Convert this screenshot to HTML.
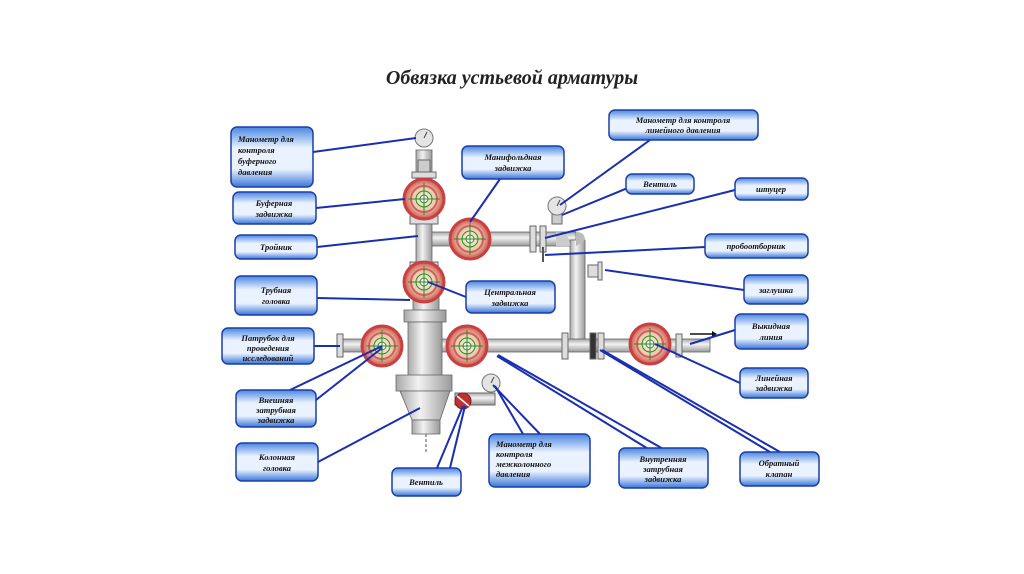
<!DOCTYPE html>
<html><head><meta charset="utf-8"><style>
html,body{margin:0;padding:0;background:#fff;}
svg{display:block}
.l{font-family:"Liberation Serif",serif;font-style:italic;font-weight:bold;font-size:8.5px;fill:#111;}
.ln{stroke:#1a2fb0;stroke-width:2;fill:none}
.p{fill:url(#pg);stroke:#666;stroke-width:0.8}
</style></head><body>
<svg width="1024" height="574" viewBox="0 0 1024 574" xmlns="http://www.w3.org/2000/svg">
<defs>
<linearGradient id="bg" x1="0" y1="0" x2="0" y2="1"><stop offset="0" stop-color="#4a86e0"/><stop offset="0.35" stop-color="#eaf2ff"/><stop offset="0.7" stop-color="#eaf2ff"/><stop offset="1" stop-color="#3a76d8"/></linearGradient>
<linearGradient id="pg" x1="0" y1="0" x2="1" y2="0"><stop offset="0" stop-color="#a8a8a8"/><stop offset="0.4" stop-color="#f2f2f2"/><stop offset="1" stop-color="#9a9a9a"/></linearGradient>
<linearGradient id="ph" x1="0" y1="0" x2="0" y2="1"><stop offset="0" stop-color="#a8a8a8"/><stop offset="0.4" stop-color="#f2f2f2"/><stop offset="1" stop-color="#9a9a9a"/></linearGradient>
<radialGradient id="vg"><stop offset="0" stop-color="#fff6e0"/><stop offset="0.6" stop-color="#e8c8a8"/><stop offset="1" stop-color="#d05050"/></radialGradient>
<g id="valve"><circle r="20" fill="url(#vg)" stroke="#c84040" stroke-width="3"/><circle r="13" fill="none" stroke="#d06060" stroke-width="2"/><circle r="8" fill="none" stroke="#2a8a2a" stroke-width="1"/><circle r="4" fill="#fff" stroke="#2a8a2a"/><line x1="-16" y1="0" x2="16" y2="0" stroke="#2a8a2a"/><line x1="0" y1="-16" x2="0" y2="16" stroke="#2a8a2a"/></g>
<g id="gauge"><circle r="9" fill="#e4e4e4" stroke="#777"/><line x1="0" y1="0" x2="3" y2="-6" stroke="#444"/></g>
</defs>
<rect width="1024" height="574" fill="#fff"/>
<text x="512" y="84" text-anchor="middle" font-family="Liberation Serif,serif" font-weight="bold" font-style="italic" font-size="20" fill="#222">Обвязка устьевой арматуры</text>

<!-- pipes -->
<rect class="p" x="416" y="150" width="16" height="30" style="fill:url(#pg)"/>
<rect x="430" y="232" width="146" height="14" fill="url(#ph)" stroke="#666" stroke-width="0.8"/>
<rect class="p" x="570" y="240" width="15" height="100"/>
<path d="M570 246 Q570 232 556 232 L556 246 Z" fill="#ccc"/>
<path d="M585 240 Q585 232 576 232 L576 246 Z" fill="#bbb"/>
<rect x="440" y="339" width="270" height="13" fill="url(#ph)" stroke="#666" stroke-width="0.8"/>
<rect x="338" y="339" width="50" height="13" fill="url(#ph)" stroke="#666" stroke-width="0.8"/>
<rect x="337" y="334" width="6" height="23" fill="#ddd" stroke="#666"/>
<rect x="676" y="334" width="6" height="23" fill="#ddd" stroke="#666"/>
<rect x="530" y="226" width="6" height="26" fill="#ddd" stroke="#666"/>
<rect x="540" y="226" width="6" height="26" fill="#ddd" stroke="#666"/>
<rect x="562" y="333" width="6" height="26" fill="#ddd" stroke="#666"/>
<rect x="590" y="333" width="6" height="26" fill="#333" stroke="#666"/>
<rect x="598" y="333" width="6" height="26" fill="#ddd" stroke="#666"/>
<rect x="588" y="265" width="10" height="12" fill="#ddd" stroke="#666"/>
<rect x="598" y="262" width="4" height="18" fill="#ddd" stroke="#666"/>
<line x1="543" y1="247" x2="543" y2="262" stroke="#555" stroke-width="2"/>
<!-- wellhead column -->
<rect x="410" y="216" width="28" height="8" fill="#ddd" stroke="#666"/>
<rect class="p" x="416" y="224" width="16" height="40"/>
<rect x="410" y="262" width="28" height="6" fill="#ddd" stroke="#666"/>
<rect class="p" x="413" y="295" width="26" height="16"/>
<rect class="p" x="404" y="310" width="42" height="12"/>
<rect class="p" x="408" y="322" width="34" height="54"/>
<rect class="p" x="396" y="375" width="56" height="16"/>
<path d="M400 391 L450 391 L440 420 L412 420 Z" fill="url(#pg)" stroke="#666" stroke-width="0.8"/>
<rect class="p" x="412" y="420" width="28" height="14"/>
<line x1="426" y1="434" x2="426" y2="452" stroke="#555" stroke-dasharray="3 2"/>
<rect x="455" y="393" width="40" height="12" fill="url(#ph)" stroke="#666"/>
<rect x="418" y="160" width="12" height="12" fill="#ccc" stroke="#666"/>
<rect x="412" y="172" width="24" height="6" fill="#ddd" stroke="#666"/>
<rect x="552" y="214" width="10" height="10" fill="#ccc" stroke="#666"/>

<use href="#valve" x="424" y="199"/>
<use href="#valve" x="470" y="239"/>
<use href="#valve" x="424" y="282"/>
<use href="#valve" x="382" y="346"/>
<use href="#valve" x="467" y="346"/>
<use href="#valve" x="650" y="344"/>
<use href="#gauge" x="424" y="138"/>
<use href="#gauge" x="557" y="206"/>
<use href="#gauge" x="491" y="383"/>
<circle cx="463" cy="401" r="8" fill="#c03030" stroke="#802020"/><line x1="457" y1="396" x2="469" y2="406" stroke="#fff" stroke-width="1.5"/>
<path d="M690 334 L712 334" stroke="#111" stroke-width="1.5"/><path d="M712 331 L717 334 L712 337Z" fill="#111"/>

<!-- leader lines -->
<g class="ln">
<path d="M313 152 L416 138"/><path d="M316 208 L405 199"/><path d="M317 247 L418 236"/><path d="M317 298 L410 300"/>
<path d="M314 346 L340 346"/><path d="M290 390 L382 346"/><path d="M316 400 L382 348"/><path d="M318 462 L420 408"/>
<path d="M437 468 L463 406"/><path d="M450 468 L465 406"/><path d="M523 434 L495 386"/><path d="M540 434 L493 385"/>
<path d="M650 450 L497 356"/><path d="M665 450 L498 355"/><path d="M770 452 L600 350"/><path d="M780 452 L602 350"/>
<path d="M740 383 L655 344"/><path d="M735 330 L690 344"/><path d="M744 290 L605 270"/><path d="M705 247 L545 255"/>
<path d="M735 190 L545 238"/><path d="M640 183 L562 215"/><path d="M650 140 L560 205"/><path d="M500 179 L470 222"/><path d="M466 297 L428 282"/>
</g>

<!-- label boxes -->
<g stroke="#1a3fa8" stroke-width="1.5" fill="url(#bg)">
<rect x="231" y="127" width="82" height="60" rx="6"/>
<rect x="233" y="192" width="83" height="32" rx="6"/>
<rect x="235" y="235" width="82" height="24" rx="6"/>
<rect x="235" y="276" width="82" height="39" rx="6"/>
<rect x="222" y="328" width="92" height="36" rx="6"/>
<rect x="236" y="390" width="80" height="37" rx="6"/>
<rect x="236" y="443" width="82" height="38" rx="6"/>
<rect x="392" y="468" width="69" height="28" rx="6"/>
<rect x="489" y="434" width="101" height="53" rx="6"/>
<rect x="619" y="448" width="89" height="40" rx="6"/>
<rect x="740" y="452" width="79" height="34" rx="6"/>
<rect x="740" y="368" width="68" height="30" rx="6"/>
<rect x="735" y="314" width="73" height="35" rx="6"/>
<rect x="744" y="275" width="64" height="29" rx="6"/>
<rect x="705" y="234" width="103" height="24" rx="6"/>
<rect x="735" y="178" width="73" height="22" rx="6"/>
<rect x="626" y="174" width="68" height="20" rx="6"/>
<rect x="609" y="110" width="149" height="30" rx="6"/>
<rect x="462" y="146" width="102" height="33" rx="6"/>
<rect x="466" y="281" width="89" height="32" rx="6"/>
</g>
<g class="l">
<text x="238" y="142">Манометр для</text><text x="238" y="153">контроля</text><text x="238" y="164">буферного</text><text x="238" y="175">давления</text>
<text x="274" y="206" text-anchor="middle">Буферная</text><text x="274" y="217" text-anchor="middle">задвижка</text>
<text x="276" y="250" text-anchor="middle">Тройник</text>
<text x="276" y="293" text-anchor="middle">Трубная</text><text x="276" y="304" text-anchor="middle">головка</text>
<text x="268" y="341" text-anchor="middle">Патрубок для</text><text x="268" y="351" text-anchor="middle">проведения</text><text x="268" y="361" text-anchor="middle">исследований</text>
<text x="276" y="403" text-anchor="middle">Внешняя</text><text x="276" y="413" text-anchor="middle">затрубная</text><text x="276" y="423" text-anchor="middle">задвижка</text>
<text x="277" y="460" text-anchor="middle">Колонная</text><text x="277" y="471" text-anchor="middle">головка</text>
<text x="426" y="485" text-anchor="middle">Вентиль</text>
<text x="496" y="447">Манометр для</text><text x="496" y="457">контроля</text><text x="496" y="467">межколонного</text><text x="496" y="477">давления</text>
<text x="663" y="462" text-anchor="middle">Внутренняя</text><text x="663" y="472" text-anchor="middle">затрубная</text><text x="663" y="482" text-anchor="middle">задвижка</text>
<text x="779" y="466" text-anchor="middle">Обратный</text><text x="779" y="477" text-anchor="middle">клапан</text>
<text x="774" y="381" text-anchor="middle">Линейная</text><text x="774" y="391" text-anchor="middle">задвижка</text>
<text x="771" y="329" text-anchor="middle">Выкидная</text><text x="771" y="340" text-anchor="middle">линия</text>
<text x="776" y="293" text-anchor="middle">заглушка</text>
<text x="756" y="249" text-anchor="middle">пробоотборник</text>
<text x="771" y="192" text-anchor="middle">штуцер</text>
<text x="660" y="187" text-anchor="middle">Вентиль</text>
<text x="683" y="123" text-anchor="middle">Манометр для контроля</text><text x="683" y="133" text-anchor="middle">линейного давления</text>
<text x="513" y="160" text-anchor="middle">Манифольдная</text><text x="513" y="171" text-anchor="middle">задвижка</text>
<text x="510" y="295" text-anchor="middle">Центральная</text><text x="510" y="306" text-anchor="middle">задвижка</text>
</g>
</svg>
</body></html>
